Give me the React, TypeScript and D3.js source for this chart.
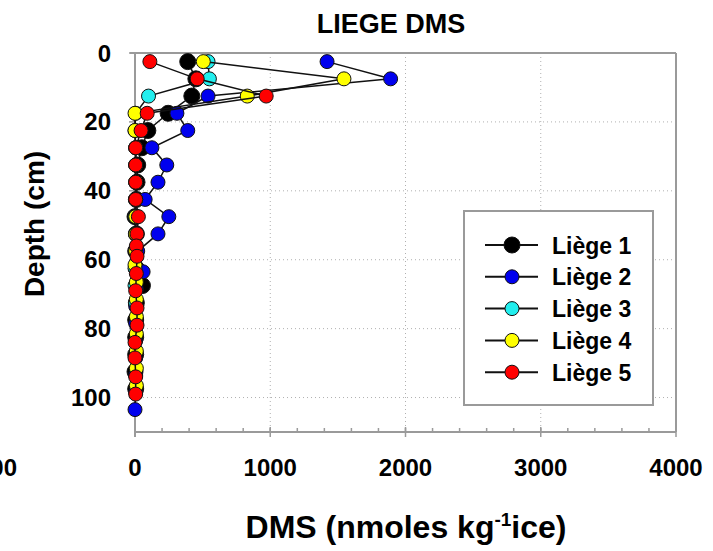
import React from "react";
import * as d3 from "d3";

const seriesNames = ["Liège 1", "Liège 2", "Liège 3", "Liège 4", "Liège 5"];
const seriesColors = ["#000000", "#0000ee", "#22eeee", "#ffff00", "#ff0000"];

const depth1 = [2.5, 7.5, 12.5, 17.5, 22.5, 27.5, 32.5, 37.5, 42.5, 47.5, 52.5, 57.5, 62.5, 67.5, 72.5, 77.5, 82.5, 87.5, 92.5, 97.5];
const dms1 = [390, 450, 420, 245, 95, 50, 20, 15, 10, 0, 10, 5, 10, 55, 10, 5, 5, 5, 0, 5];

const depth2 = [2.5, 7.5, 12.5, 17.5, 22.5, 27.5, 32.5, 37.5, 42.5, 47.5, 52.5, 57.5, 63.5, 68.5, 73.5, 78.5, 83.5, 88.5, 93.5, 98.5, 103.5];
const dms2 = [1420, 1890, 540, 310, 390, 125, 235, 170, 75, 250, 170, 20, 60, 10, 5, 5, 5, 5, 5, 5, 0];

const depth3 = [2.5, 7.5, 12.5, 17.5, 22.5, 27.5, 32.5, 37.5, 42.5, 47.5, 52.5, 57.5, 62.5, 67.5, 72.5];
const dms3 = [540, 550, 100, 5, 0, 5, 5, 5, 5, 0, 5, 5, 0, 0, 5];

const depth4 = [2.5, 7.5, 12.5, 17.5, 22.5, 27.5, 32.5, 37.5, 42.5, 47.5, 52.5, 57.5, 61.5, 66.5, 71.5, 76.5, 81.5, 86.5, 91.5, 96.5];
const dms4 = [505, 1545, 830, 0, 0, 5, 5, 5, 5, 5, 5, 5, 0, 10, 10, 10, 10, 10, 10, 10];

const depth5 = [2.5, 7.5, 12.5, 17.5, 22.5, 27.5, 32.5, 37.5, 42.5, 47.5, 52.5, 56, 59, 64, 69, 74, 79, 84, 88.5, 94, 99];
const dms5 = [110, 460, 970, 90, 45, 5, 5, 5, 5, 25, 15, 10, 15, 10, 5, 15, 15, 0, 0, 5, 5];

const allDepths = [depth1, depth2, depth3, depth4, depth5];
const allDms = [dms1, dms2, dms3, dms4, dms5];

const xTicks = [0, 1000, 2000, 3000, 4000];
const xMinorTicks = d3.range(0, 4001, 200);
const yTicks = [0, 20, 40, 60, 80, 100];
const cutLabel = "-1000";

const FONT = "'Liberation Sans', Arial, Helvetica, sans-serif";

export default function App() {
  const W = 713, H = 551;
  const x = d3.scaleLinear().domain([0, 4000]).range([135, 676]);
  const y = d3.scaleLinear().domain([0, 110]).range([53, 432]);
  const line = d3.line<[number, number]>().x((d) => x(d[0])).y((d) => y(d[1]));
  const gridColor = "#b0b0b0";
  const axisColor = "#9a9a9a";

  return (
    <svg width={W} height={H} style={{ position: "absolute", left: 0, top: 0, background: "#fff" }} fontFamily={FONT}>
      <rect x={0} y={0} width={W} height={H} fill="#fff" />
      <text x={391} y={33} textAnchor="middle" fontSize={27} fontWeight="bold">LIEGE DMS</text>

      {/* grid */}
      {xTicks.slice(1, -1).map((t) => (
        <line key={"gx" + t} x1={x(t)} x2={x(t)} y1={y(0)} y2={y(110)} stroke={gridColor} strokeWidth={1} strokeDasharray="1,3" />
      ))}
      {yTicks.slice(1).map((t) => (
        <line key={"gy" + t} x1={x(0)} x2={x(4000)} y1={y(t)} y2={y(t)} stroke={gridColor} strokeWidth={1} strokeDasharray="1,3" />
      ))}

      {/* frame */}
      <line x1={x(0) - 5} x2={x(4000)} y1={y(0)} y2={y(0)} stroke={axisColor} strokeWidth={2} />
      <line x1={x(4000)} x2={x(4000)} y1={y(0)} y2={y(110)} stroke={axisColor} strokeWidth={2} />
      <line x1={x(0)} x2={x(0)} y1={y(0)} y2={y(110) + 5} stroke={axisColor} strokeWidth={2} />
      <line x1={x(0)} x2={x(4000)} y1={y(110)} y2={y(110)} stroke={axisColor} strokeWidth={2} />

      {/* x ticks */}
      {xMinorTicks.map((t) => (
        <line key={"mx" + t} x1={x(t)} x2={x(t)} y1={y(110) - 4} y2={y(110)} stroke={axisColor} strokeWidth={1.5} />
      ))}
      {xTicks.map((t) => (
        <line key={"tx" + t} x1={x(t)} x2={x(t)} y1={y(110) - 5} y2={y(110) + 5} stroke={axisColor} strokeWidth={1.5} />
      ))}
      {xTicks.map((t) => (
        <text key={"lx" + t} x={x(t)} y={476} textAnchor="middle" fontSize={24} fontWeight="bold">{t}</text>
      ))}
      <text x={17} y={476} textAnchor="end" fontSize={24} fontWeight="bold">{cutLabel}</text>

      {/* y ticks */}
      {yTicks.map((t) => (
        <line key={"ty" + t} x1={x(0) - 6} x2={x(0)} y1={y(t)} y2={y(t)} stroke={axisColor} strokeWidth={1.5} />
      ))}
      {yTicks.map((t) => (
        <text key={"ly" + t} x={111} y={y(t) + 8.5} textAnchor="end" fontSize={24} fontWeight="bold">{t}</text>
      ))}

      {/* axis titles */}
      <text x={406} y={538} textAnchor="middle" fontSize={32} fontWeight="bold">
        DMS (nmoles kg<tspan fontSize={19} dy={-12}>-1</tspan><tspan dy={12}>ice)</tspan>
      </text>
      <text transform={`translate(44, 224) rotate(-90)`} textAnchor="middle" fontSize={28} fontWeight="bold">Depth (cm)</text>

      {/* series */}
      {allDms.map((vals, si) => {
        const pts = vals.map((v, i) => [v, allDepths[si][i]] as [number, number]);
        return (
          <g key={"s" + si}>
            <path d={line(pts) || ""} fill="none" stroke="#111" strokeWidth={1.5} />
            {pts.map((p, i) => (
              <circle key={i} cx={x(p[0])} cy={y(p[1])} r={si === 0 ? 8 : 7} fill={seriesColors[si]} stroke="#111" strokeWidth={1} />
            ))}
          </g>
        );
      })}

      {/* legend */}
      <rect x={464} y={211} width={189} height={194} fill="#fff" stroke={axisColor} strokeWidth={2} />
      {seriesNames.map((n, i) => {
        const ly = 245 + i * 31.8;
        return (
          <g key={"lg" + i}>
            <line x1={485} x2={538} y1={ly} y2={ly} stroke="#111" strokeWidth={2} />
            <circle cx={512} cy={ly} r={i === 0 ? 8 : 7} fill={seriesColors[i]} stroke="#111" strokeWidth={1} />
            <text x={552} y={ly + 8.5} fontSize={23} fontWeight="bold">{n}</text>
          </g>
        );
      })}
    </svg>
  );
}
